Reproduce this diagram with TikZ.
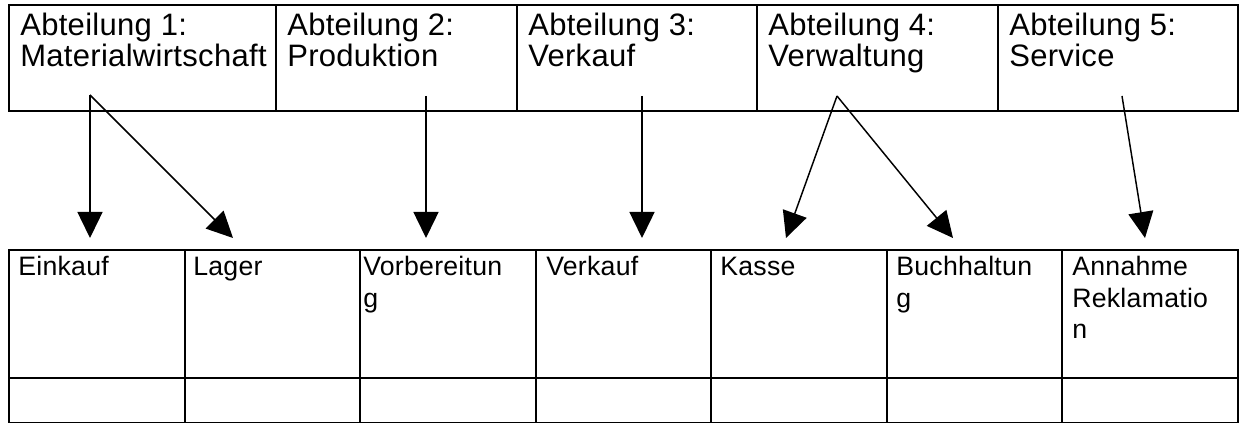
\documentclass[tikz,border=0pt]{standalone}
\usepackage{fontspec}
\setmainfont{Liberation Sans}
\newfontfamily\headfont[LetterSpace=1]{Liberation Sans}
\newfontfamily\unitfont[LetterSpace=1]{Liberation Sans}
\usetikzlibrary{arrows.meta}

% multi-line cell text whose baseline is the first line's baseline
\newcommand{\lines}[1]{\begin{tabular}[t]{@{}l@{}}#1\end{tabular}}

\begin{document}
\begin{tikzpicture}[x=0.75pt, y=-0.75pt,
  box/.style={draw, line width=1.5pt, inner sep=0pt, anchor=north west},
  headtxt/.style={anchor=base west, inner sep=0pt,
    font=\headfont\fontsize{23.25pt}{21.75pt}\selectfont},
  unittxt/.style={anchor=base west, inner sep=0pt,
    font=\unitfont\fontsize{20pt}{23.6pt}\selectfont},
  arr/.style={line width=1.1pt, -{Triangle[length=19.5pt, width=18.75pt]}}]

\useasboundingbox[fill=white] (0,0) rectangle (1239,423);

% departments (upper row)
\node[box, minimum width=200.25pt, minimum height=79.5pt] (d1) at (8,4) {};
\node[box, minimum width=180.75pt, minimum height=79.5pt] (d2) at (275,4) {};
\node[box, minimum width=180pt,    minimum height=79.5pt] (d3) at (516,4) {};
\node[box, minimum width=180.75pt, minimum height=79.5pt] (d4) at (756,4) {};
\node[box, minimum width=180pt,    minimum height=79.5pt] (d5) at (997,4) {};

\node[headtxt] (d1t) at (20,35.5)   {\lines{Abteilung 1:\\Materialwirtschaft}};
\node[headtxt] (d2t) at (287,35.5)  {\lines{Abteilung 2:\\Produktion}};
\node[headtxt] (d3t) at (528,35.5)  {\lines{Abteilung 3:\\Verkauf}};
\node[headtxt] (d4t) at (768,35.5)  {\lines{Abteilung 4:\\Verwaltung}};
\node[headtxt] (d5t) at (1009,35.5) {\lines{Abteilung 5:\\Service}};

% units (lower table: name row and empty row)
\foreach \i/\x in {1/8, 2/183.57, 3/359.14, 4/534.71, 5/710.29, 6/885.86, 7/1061.43}{
  \node[box, minimum width=131.68pt, minimum height=96pt] (u\i) at (\x,249) {};
  \node[box, minimum width=131.68pt, minimum height=33.75pt] (v\i) at (\x,377) {};
}

\node[unittxt] (u1t) at (18,276)   {Einkauf};
\node[unittxt] (u2t) at (193,276)  {Lager};
\node[unittxt] (u3t) at (363,276)  {\lines{Vorbereitun\\g}};
\node[unittxt] (u4t) at (546,276)  {Verkauf};
\node[unittxt] (u5t) at (720,276)  {Kasse};
\node[unittxt] (u6t) at (896,276)  {\lines{Buchhaltun\\g}};
\node[unittxt] (u7t) at (1072,276) {\lines{Annahme\\Reklamatio\\n}};

% arrow origins inside the department boxes
\coordinate (o1) at (90,95);
\coordinate (o2) at (426,96);
\coordinate (o3) at (642,96);
\coordinate (o4) at (837,96);
\coordinate (o5) at (1122,96);

% arrow tips above the units
\coordinate (p1) at (90,238);
\coordinate (p2) at (233,238);
\coordinate (p3) at (426,238);
\coordinate (p4) at (642,238);
\coordinate (p5) at (786,238);
\coordinate (p6) at (953,238);
\coordinate (p7) at (1145,238);

\draw[arr] (o1) -- (p1);
\draw[arr] (o1) -- (p2);
\draw[arr] (o2) -- (p3);
\draw[arr] (o3) -- (p4);
\draw[arr] (o4) -- (p5);
\draw[arr] (o4) -- (p6);
\draw[arr] (o5) -- (p7);

\end{tikzpicture}
\end{document}
